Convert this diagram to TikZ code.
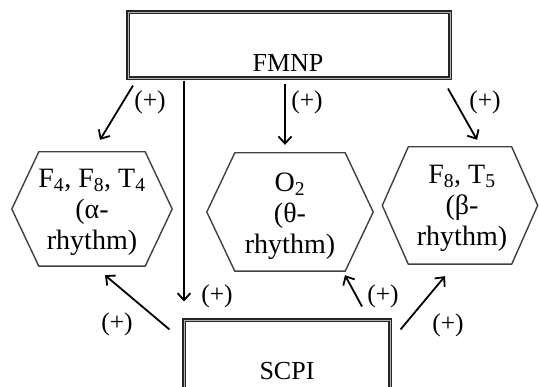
\documentclass[tikz,border=0pt]{standalone}
\usepackage{fontspec}
\setmainfont{Liberation Serif}
\usetikzlibrary{arrows.meta}
\begin{document}
\begin{tikzpicture}[x=1pt,y=-1pt,
  txt/.style={font=\fontsize{26}{29}\selectfont, inner sep=0pt},
  dbox/.style={draw=black!85, line width=1.1pt, double=gray!60, double distance=0.9pt, inner sep=0pt},
  hexa/.style={inner sep=0pt, align=center, font=\fontsize{28}{31}\selectfont},
  hexline/.style={draw=black!75, line width=1.4pt, line join=miter},
  arr/.style={draw=black, line width=1.8pt, -{Straight Barb[length=7pt,width=13pt]}},
  plus/.style={font=\fontsize{25.5}{29}\selectfont, inner sep=0pt}
]
\useasboundingbox (0,0) rectangle (539,387);
% boxes
\node[dbox, minimum width=322pt, minimum height=66pt] (fmnp) at (289,45) {};
\node[txt] (fmnpt) at (288,63) {FMNP};
\node[dbox, minimum width=206pt, minimum height=100pt] (scpi) at (287,370) {};
\node[txt] (scpit) at (287,371) {SCPI};
% hexagons
\node[hexa, minimum width=160pt, minimum height=114pt] (h1) at (92,209) {};
\node[hexa] (h1t) at (92,212)
  {F\textsubscript{4}, F\textsubscript{8}, T\textsubscript{4}\\(α-\\rhythm)};
\node[hexa, minimum width=166pt, minimum height=118pt] (h2) at (290,212) {};
\node[hexa] (h2t) at (290,216)
  {O\textsubscript{2}\\(θ-\\rhythm)};
\node[hexa, minimum width=155pt, minimum height=117pt] (h3) at (460,205.5) {};
\node[hexa] (h3t) at (462,208)
  {F\textsubscript{8}, T\textsubscript{5}\\(β-\\rhythm)};
\draw[hexline] (h1.west) -- ([xshift=27]h1.north west) -- ([xshift=-27]h1.north east) -- (h1.east)
  -- ([xshift=-27]h1.south east) -- ([xshift=27]h1.south west) -- cycle;
\draw[hexline] (h2.west) -- ([xshift=28]h2.north west) -- ([xshift=-28]h2.north east) -- (h2.east)
  -- ([xshift=-28]h2.south east) -- ([xshift=28]h2.south west) -- cycle;
\draw[hexline] (h3.west) -- ([xshift=26]h3.north west) -- ([xshift=-26]h3.north east) -- (h3.east)
  -- ([xshift=-26]h3.south east) -- ([xshift=26]h3.south west) -- cycle;
% arrows from FMNP
\draw[arr] ([shift={(-156,7)}]fmnp.south) -- ([shift={(8,-12)}]h1.north);
\draw[arr] ([shift={(-4,5)}]fmnp.south) -- ([shift={(-5,-8)}]h2.north);
\draw[arr] ([shift={(159,10)}]fmnp.south) -- ([shift={(17,-7)}]h3.north);
\draw[arr] ([shift={(-105,2)}]fmnp.south) -- ([shift={(-103,-18)}]scpi.north);
% arrows from SCPI
\draw[arr] ([shift={(-14,10)}]scpi.north west) -- ([shift={(13,9)}]h1.south);
\draw[arr] ([shift={(75,-13)}]scpi.north) -- ([shift={(55,4)}]h2.south);
\draw[arr] ([shift={(10,10)}]scpi.north east) -- ([shift={(-15,12)}]h3.south);
% labels
\node[plus] (p1) at (150,102) {(+)};
\node[plus] (p2) at (307,102) {(+)};
\node[plus] (p3) at (485,102) {(+)};
\node[plus] (p4) at (217,296) {(+)};
\node[plus] (p5) at (117,324) {(+)};
\node[plus] (p6) at (383,296) {(+)};
\node[plus] (p7) at (448,325) {(+)};
\end{tikzpicture}
\end{document}
